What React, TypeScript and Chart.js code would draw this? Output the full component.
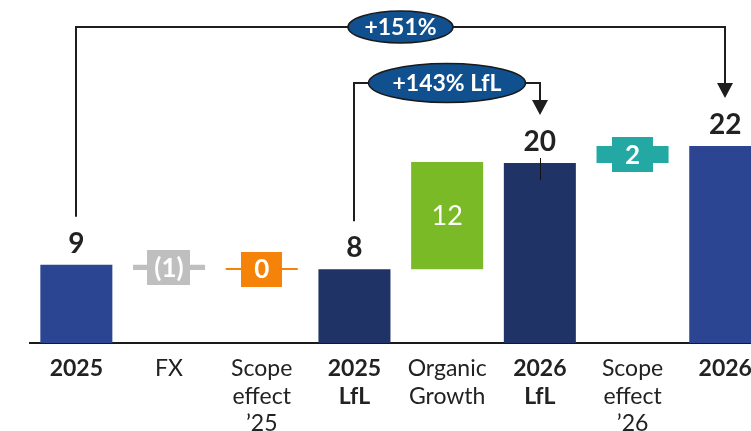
import React, { useEffect, useRef } from 'react';
import { Chart, registerables } from 'chart.js';

Chart.register(...registerables);

const categories: string[][] = [
  ['2025'],
  ['FX'],
  ['Scope', 'effect', '’25'],
  ['2025', 'LfL'],
  ['Organic', 'Growth'],
  ['2026', 'LfL'],
  ['Scope', 'effect', '’26'],
  ['2026'],
];
const kinds = ['total', 'delta', 'delta', 'total', 'delta', 'total', 'delta', 'total'];
const values = [8.7, -0.6, 0, 8.2, 11.9, 20.0, 1.9, 21.9];
const valueLabels = ['9', '(1)', '0', '8', '12', '20', '2', '22'];
const barColors = ['#2C4593', '#BFBFBF', '#F5830A', '#1F3366', '#7BBA27', '#1F3366', '#24A8A4', '#2C4593'];
const bridgeFrom = [0, 3];
const bridgeTo = [7, 5];
const bridgeLabels = ['+151%', '+143% LfL'];

const FONT = 'Lato, "Noto Sans", sans-serif';

function buildRanges(): [number, number][] {
  let running = 0;
  return values.map((v, i) => {
    if (kinds[i] === 'total') {
      running = v;
      return [0, v] as [number, number];
    }
    const r: [number, number] = [running, running + v];
    running += v;
    return r;
  });
}

const overlayPlugin = {
  id: 'overlay',
  afterDatasetsDraw(chart: any) {
    const ctx: CanvasRenderingContext2D = chart.ctx;
    const meta = chart.getDatasetMeta(0);
    const bars = meta.data as any[];
    const topOf = (b: any) => Math.min(b.y, b.base);
    const botOf = (b: any) => Math.max(b.y, b.base);
    ctx.save();
    ctx.textAlign = 'center';
    ctx.textBaseline = 'middle';
    bars.forEach((b, i) => {
      const t = topOf(b);
      const bt = botOf(b);
      if (kinds[i] === 'total') {
        ctx.fillStyle = '#222222';
        ctx.font = `bold 28px ${FONT}`;
        ctx.fillText(valueLabels[i], b.x, t - 21);
      } else if (bt - t > 40) {
        ctx.fillStyle = '#ffffff';
        ctx.font = `normal 27px ${FONT}`;
        ctx.fillText(valueLabels[i], b.x, (t + bt) / 2 + 1);
      } else {
        ctx.font = `bold 26px ${FONT}`;
        const tw = ctx.measureText(valueLabels[i]).width;
        const w = Math.max(41, tw + 14);
        const h = 35;
        const cy = (t + bt) / 2;
        ctx.fillStyle = barColors[i];
        ctx.fillRect(Math.round(b.x - w / 2), Math.round(cy - h / 2), Math.round(w), h);
        ctx.fillStyle = '#ffffff';
        ctx.fillText(valueLabels[i], b.x, cy + 1);
      }
    });
    // small tick on 2026 LfL bar
    const lfl = bars[5];
    ctx.strokeStyle = '#111111';
    ctx.lineWidth = 1;
    ctx.beginPath();
    ctx.moveTo(Math.round(lfl.x) + 0.5, topOf(lfl) - 5);
    ctx.lineTo(Math.round(lfl.x) + 0.5, topOf(lfl) + 17);
    ctx.stroke();

    const bridgeTops = [19, 75];
    const ellW = [105, 157];
    const ellH = [32, 39];
    bridgeFrom.forEach((f, k) => {
      const b1 = bars[f];
      const b2 = bars[bridgeTo[k]];
      const x1 = Math.round(b1.x);
      const x2 = Math.round(b2.x);
      const y1 = topOf(b1) - 48;
      const y2 = topOf(b2) - 48;
      const ty = bridgeTops[k];
      ctx.strokeStyle = '#1e1e1e';
      ctx.fillStyle = '#1e1e1e';
      ctx.lineWidth = 2;
      ctx.beginPath();
      ctx.moveTo(x1, y1);
      ctx.lineTo(x1, ty);
      ctx.lineTo(x2, ty);
      ctx.lineTo(x2, y2 - 14);
      ctx.stroke();
      ctx.beginPath();
      ctx.moveTo(x2 - 8, y2 - 15);
      ctx.lineTo(x2 + 8, y2 - 15);
      ctx.lineTo(x2, y2);
      ctx.closePath();
      ctx.fill();
      const cx = (x1 + x2) / 2;
      ctx.beginPath();
      ctx.ellipse(cx, ty, ellW[k] / 2, ellH[k] / 2, 0, 0, Math.PI * 2);
      ctx.fillStyle = '#11508F';
      ctx.fill();
      ctx.lineWidth = 1.5;
      ctx.strokeStyle = '#1a1a1a';
      ctx.stroke();
      ctx.fillStyle = '#ffffff';
      ctx.font = `bold 23px ${FONT}`;
      ctx.fillText(bridgeLabels[k], cx, ty + 1);
    });
    ctx.restore();
  },
};

export default function App() {
  const ref = useRef<HTMLCanvasElement | null>(null);
  useEffect(() => {
    if (!ref.current) return;
    document.body.style.margin = '0';
    const ranges = buildRanges();
    const chart = new Chart(ref.current, {
      type: 'bar',
      data: {
        labels: categories,
        datasets: [
          {
            data: ranges as any,
            backgroundColor: barColors,
            borderWidth: 0,
            barPercentage: 1,
            categoryPercentage: 0.777,
            minBarLength: 2,
          },
        ],
      },
      options: {
        responsive: false,
        animation: false,
        devicePixelRatio: 1,
        layout: { padding: { left: 22, right: 16.4, top: 11, bottom: 0 } },
        plugins: {
          legend: { display: false },
          tooltip: { enabled: false },
        },
        scales: {
          x: {
            grid: { display: false, drawTicks: false },
            border: { display: true, color: '#1a1a1a', width: 2 },
            afterFit: (scale: any) => {
              scale.height = 105;
            },
            ticks: {
              autoSkip: false,
              maxRotation: 0,
              padding: 12,
              color: '#222222',
              font: (c: any) => ({
                family: FONT,
                size: 23,
                weight: kinds[c.index] === 'total' ? 'bold' : 'normal',
                lineHeight: 1.2,
              }),
            },
          },
          y: {
            display: false,
            min: 0,
            max: 36,
          },
        },
      },
      plugins: [overlayPlugin],
    });
    return () => chart.destroy();
  }, []);
  return (
    <div
      style={{
        width: 751,
        height: 431,
        paddingTop: 8,
        paddingLeft: 8,
        boxSizing: 'border-box',
        overflow: 'hidden',
        position: 'relative',
      }}
    >
      <canvas ref={ref} width={780} height={440} style={{ display: 'block', width: 780, height: 440 }} />
    </div>
  );
}
